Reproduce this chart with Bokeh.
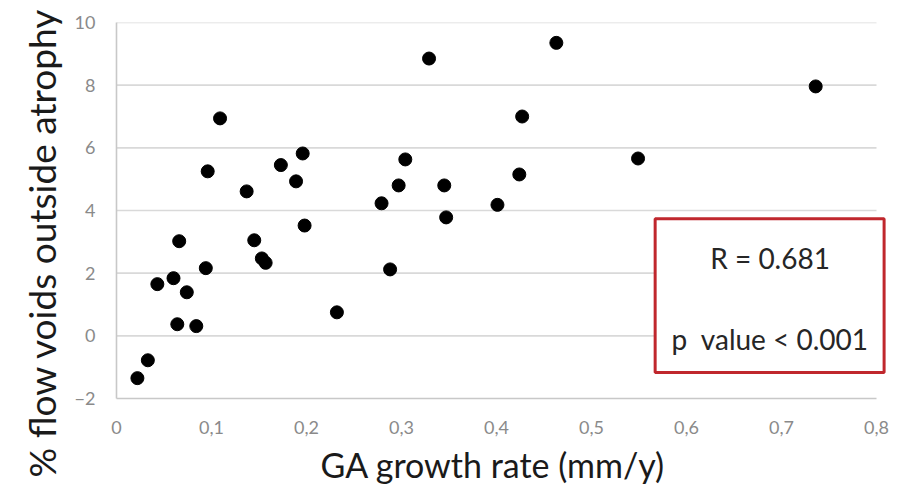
from bokeh.plotting import figure
from bokeh.models import Range1d, FixedTicker, CustomJSTickFormatter, BoxAnnotation, Label, Title, ColumnDataSource
from bokeh.embed import file_html
from bokeh.resources import INLINE

# GA growth rate (mm/y) and % flow voids outside atrophy, one entry per eye
growth_rate = [0.022, 0.033, 0.043, 0.060, 0.066, 0.064, 0.074, 0.084, 0.094, 0.096,
               0.109, 0.137, 0.145, 0.153, 0.157, 0.173, 0.189, 0.196, 0.198, 0.232,
               0.279, 0.288, 0.297, 0.304, 0.329, 0.345, 0.347, 0.401, 0.424, 0.427,
               0.463, 0.549, 0.736]
flow_voids = [-1.35, -0.78, 1.65, 1.84, 3.02, 0.37, 1.39, 0.31, 2.16, 5.25,
              6.94, 4.61, 3.05, 2.47, 2.33, 5.45, 4.93, 5.82, 3.52, 0.75,
              4.23, 2.12, 4.80, 5.63, 8.85, 4.80, 3.78, 4.18, 5.15, 7.00,
              9.35, 5.66, 7.96]

x_ticks = [0, 0.1, 0.2, 0.3, 0.4, 0.5, 0.6, 0.7, 0.8]
y_ticks = [-2, 0, 2, 4, 6, 8, 10]
grid_levels = [0, 2, 4, 6, 8, 10]

x_title = "GA growth rate (mm/y)"
y_title = "% flow voids outside atrophy"
stats_lines = ["R = 0.681", "p\u00a0 value < 0.001"]

p = figure(width=905, height=494, output_backend="svg", toolbar_location=None,
           x_range=Range1d(0, 0.82), y_range=Range1d(-2, 10),
           min_border_left=116, min_border_right=10, min_border_top=22, min_border_bottom=96)
p.background_fill_color = "white"
p.border_fill_color = "white"
p.outline_line_color = None
p.xgrid.visible = False
p.ygrid.visible = False

# horizontal gridlines stop at the last x tick
p.segment(x0=[x_ticks[0]] * len(grid_levels), x1=[x_ticks[-1]] * len(grid_levels),
          y0=grid_levels, y1=grid_levels, line_color="#d9d9d9", line_width=1.6)

src = ColumnDataSource(dict(x=growth_rate, y=flow_voids))
p.scatter("x", "y", source=src, size=13, color="black")

for ax in (p.xaxis[0], p.yaxis[0]):
    ax.major_tick_line_color = None
    ax.minor_tick_line_color = None
    ax.major_tick_out = 0
    ax.major_tick_in = 0
    ax.axis_line_color = "#c8c8c8"
    ax.axis_line_width = 1.6
    ax.major_label_text_color = "#8a8a8a"
    ax.major_label_text_font = "Lato"
    ax.major_label_text_font_size = "18px"

p.xaxis.ticker = FixedTicker(ticks=x_ticks)
p.xaxis.bounds = (x_ticks[0], x_ticks[-1])
p.xaxis.formatter = CustomJSTickFormatter(code="""
    if (Math.abs(tick) < 1e-9) return '0';
    return tick.toFixed(1).replace('.', ',');
""")
p.xaxis.major_label_standoff = 22

p.yaxis.ticker = FixedTicker(ticks=y_ticks)
p.yaxis.major_label_standoff = 21

# axis titles as side titles so they can be shifted along the frame
p.add_layout(Title(text=x_title, align="left", offset=204, standoff=10,
                   text_font="Lato", text_font_style="normal",
                   text_font_size="34px", text_color="#1a1a1a"), "below")
p.add_layout(Title(text=y_title, align="left", offset=-79, standoff=16,
                   text_font="Lato", text_font_style="normal",
                   text_font_size="37px", text_color="#1a1a1a"), "left")

# correlation summary box
box = BoxAnnotation(left=0.567, right=0.808, top=3.74, bottom=-1.17,
                    fill_color="white", fill_alpha=1.0,
                    line_color="#c0272d", line_alpha=1.0, line_width=3)
p.add_layout(box)
for text, ypos in zip(stats_lines, [2.47, -0.09]):
    p.add_layout(Label(x=0.688, y=ypos, text=text, text_align="center",
                       text_baseline="middle", text_font="Lato",
                       text_font_size="28px", text_color="#262626"))

open("out.html", "w").write(file_html(p, INLINE))
